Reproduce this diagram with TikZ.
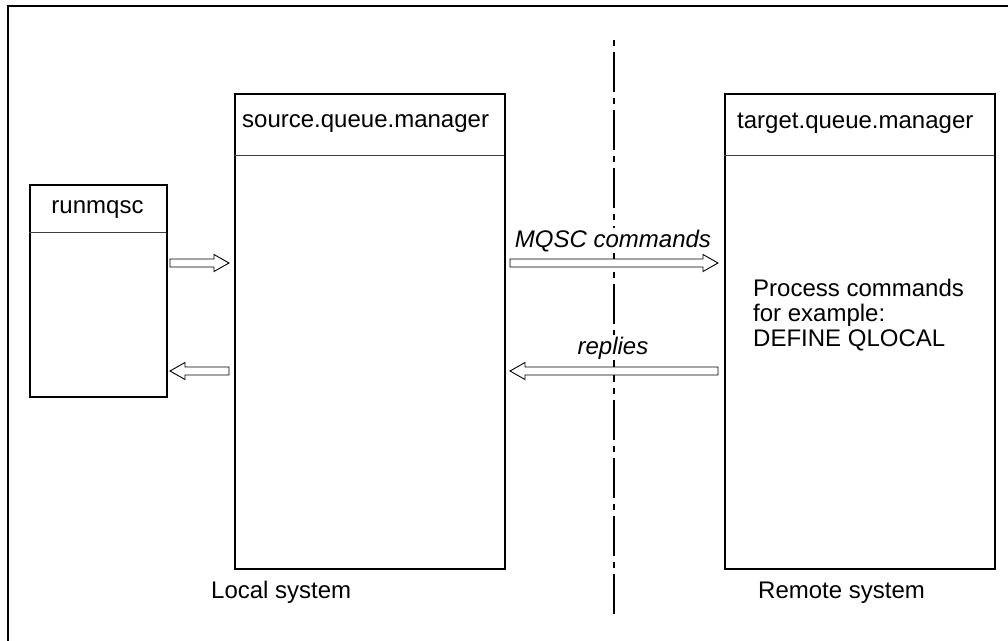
\documentclass[tikz,border=0pt]{standalone}
\usepackage{fontspec}
\setmainfont{Liberation Sans}
\usetikzlibrary{calc}
\tikzset{
  box/.style={draw, line width=1.6pt, inner sep=0pt, anchor=north west},
  divider/.style={draw=black!75, line width=1pt},
  lbl/.style={font=\fontsize{24}{28}\selectfont, inner sep=0pt},
  ilbl/.style={font=\fontsize{24}{28}\selectfont\itshape, inner sep=1.5pt, fill=white},
  hollow/.style={draw, line width=0.9pt, fill=white, line join=miter},
  sep/.style={line width=1.4pt, dash pattern=on 6pt off 6pt on 40pt off 6pt},
}
\newcommand\hollowarrow[2]{%
  \draw[hollow] let \p1=(#1), \p2=(#2), \n1={ifthenelse(\x2>\x1,1,-1)} in
    (\x1,\y1+4pt) -- (\x2-15pt*\n1,\y1+4pt) -- (\x2-15pt*\n1,\y1+8.5pt) -- (\x2,\y1)
    -- (\x2-15pt*\n1,\y1-8.5pt) -- (\x2-15pt*\n1,\y1-4pt) -- (\x1,\y1-4pt) -- cycle;}
\begin{document}
\begin{tikzpicture}[x=1pt,y=-1pt]
\useasboundingbox (0,0) rectangle (1008,640);
% outer frame (right and bottom edges lie outside the picture)
\draw[line width=1.6pt] (8,645) -- (8,6) -- (1012,6);
% separator
\draw[sep] (614,40) -- (614,614);
% boxes
\node[box, minimum width=137pt, minimum height=212pt] (rq) at (29,184) {};
\draw[divider] (29,232) -- (166,232);
\node[lbl, anchor=base] (rqt) at (97.5,213) {runmqsc};
\node[box, minimum width=270pt, minimum height=475pt] (src) at (234,93) {};
\draw[divider] (234,155) -- (504,155);
\node[lbl, anchor=base west] (srct) at (242,127) {source.queue.manager};
\node[box, minimum width=270pt, minimum height=475pt] (tgt) at (724,93) {};
\draw[divider] (724,155) -- (994,155);
\node[lbl, anchor=base west] (tgtt) at (737,128) {target.queue.manager};
\node[lbl, anchor=base west] (p1) at (753,296) {Process commands};
\node[lbl, anchor=base west] (p2) at (753,321) {for example:};
\node[lbl, anchor=base west] (p3) at (753,346) {DEFINE QLOCAL};
% arrow end points
\coordinate (a1s) at (170,263); \coordinate (a1e) at (229,263);
\coordinate (a2s) at (229,371); \coordinate (a2e) at (170,371);
\coordinate (a3s) at (510,263); \coordinate (a3e) at (718,263);
\coordinate (a4s) at (718,371); \coordinate (a4e) at (510,371);
\hollowarrow{a1s}{a1e}
\hollowarrow{a2s}{a2e}
\hollowarrow{a3s}{a3e}
\hollowarrow{a4s}{a4e}
\node[ilbl, anchor=base] (mq) at (613,247) {MQSC commands};
\node[ilbl, anchor=base] (rp) at (613,354) {replies};
% system labels
\node[lbl, anchor=base west] (loc) at (211,598) {Local system};
\node[lbl, anchor=base west] (rem) at (758,598) {Remote system};
\end{tikzpicture}
\end{document}
